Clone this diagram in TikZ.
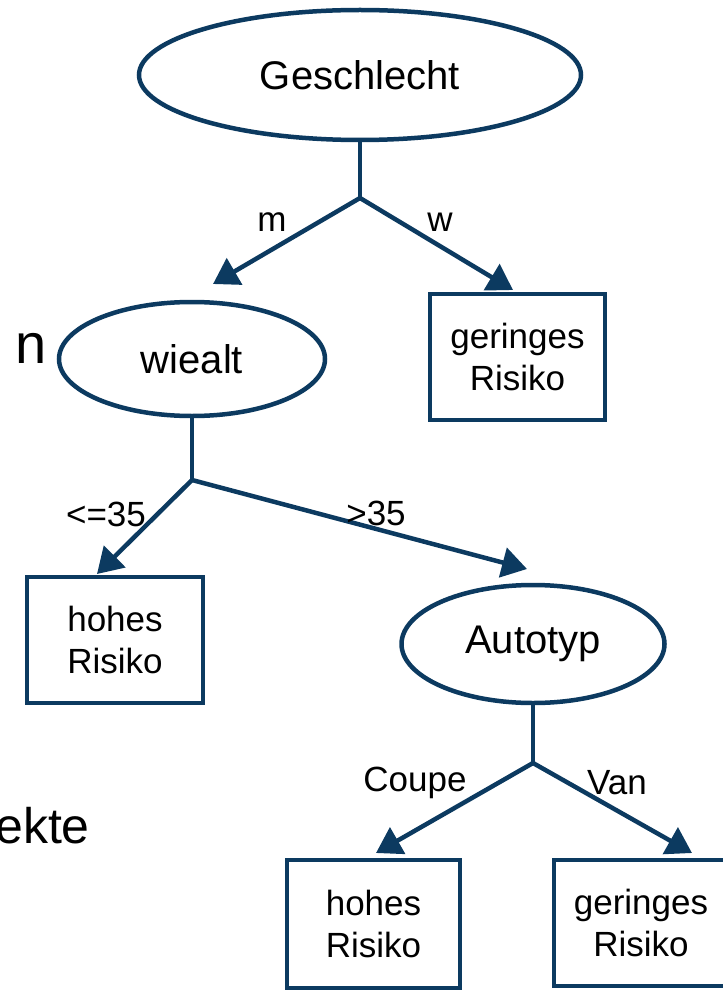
\documentclass[tikz,border=0pt]{standalone}
\usepackage{fontspec}
\setmainfont{Liberation Sans}
\usetikzlibrary{shapes.geometric,arrows.meta}
\definecolor{navy}{RGB}{12,58,96}
\begin{document}
\begin{tikzpicture}[x=1pt,y=-1pt,
  treeline/.style={draw=navy,line width=4.5pt},
  arr/.style={treeline,-{Triangle[length=25pt,width=30pt]}},
  ell/.style={ellipse,draw=navy,line width=4.5pt,inner sep=0pt,fill=white,font=\fontsize{40}{46}\selectfont},
  leaf/.style={rectangle,draw=navy,line width=4.5pt,inner sep=0pt,align=center,fill=white,font=\fontsize{35}{42}\selectfont},
  lbl/.style={inner sep=0pt,font=\fontsize{35}{40}\selectfont},
  bgtext/.style={inner sep=0pt,anchor=base east}]
\useasboundingbox (0,0) rectangle (722,992);
% background slide text fragments
\node[bgtext,font=\fontsize{56}{60}\selectfont] (bgn) at (47,363) {n};
\node[bgtext,font=\fontsize{50}{56}\selectfont] (bgekte) at (90,843) {ekte};
% nodes
\node[ell,minimum width=442pt,minimum height=130pt] (g) at (360,75) {Geschlecht};
\node[ell,minimum width=266pt,minimum height=114pt] (wa) at (192,359) {wiealt};
\node[leaf,minimum width=175pt,minimum height=126pt] (gr1) at (517.5,357) {geringes\\Risiko};
\node[leaf,minimum width=176pt,minimum height=126pt] (hr1) at (115,640) {hohes\\Risiko};
\node[ell,minimum width=263pt,minimum height=118pt] (at) at (533,644) {Autotyp};
\node[leaf,minimum width=173pt,minimum height=128pt] (hr2) at (373.5,924) {hohes\\Risiko};
\node[leaf,minimum width=174pt,minimum height=126pt] (gr2) at (641,923) {geringes\\Risiko};
% junctions and arrow tips
\coordinate (j1) at (360,198);
\coordinate (t1) at (213,284);
\coordinate (t2) at (513,290);
\coordinate (j2) at (192,480);
\coordinate (t3) at (97,574);
\coordinate (t4) at (527,569);
\coordinate (j3) at (533,763);
\coordinate (t5) at (376,853);
\coordinate (t6) at (692,853);
% connectors
\draw[treeline] (g.south) -- (j1);
\draw[arr] (j1) -- (t1);
\draw[arr] (j1) -- (t2);
\draw[treeline] (wa.south) -- (j2);
\draw[arr] (j2) -- (t3);
\draw[arr] (j2) -- (t4);
\draw[treeline] (at.south) -- (j3);
\draw[arr] (j3) -- (t5);
\draw[arr] (j3) -- (t6);
% labels
\node[lbl] (lm) at (272,222) {m};
\node[lbl] (lw) at (440,222) {w};
\node[lbl] (l35a) at (106,514) {<=35};
\node[lbl] (l35b) at (376,513) {>35};
\node[lbl] (lc) at (415,783) {Coupe};
\node[lbl] (lv) at (617,783) {Van};
\end{tikzpicture}
\end{document}
